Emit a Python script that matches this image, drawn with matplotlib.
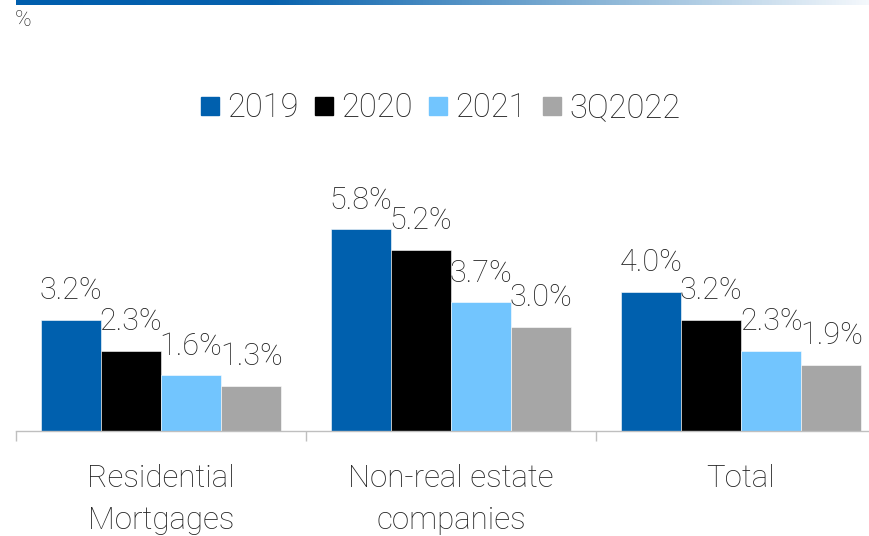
import numpy as np
import matplotlib
matplotlib.use("Agg")
import matplotlib.pyplot as plt
from matplotlib import transforms
from matplotlib.colors import LinearSegmentedColormap
from matplotlib.lines import Line2D

categories = ["Residential\nMortgages", "Non-real estate\ncompanies", "Total"]
series = ["2019", "2020", "2021", "3Q2022"]
v2019 = [3.2, 5.8, 4.0]
v2020 = [2.3, 5.2, 3.2]
v2021 = [1.6, 3.7, 2.3]
v3q2022 = [1.3, 3.0, 1.9]
colors = ["#0060AE", "#000000", "#72C5FE", "#A6A6A6"]

plt.rcParams["font.family"] = ["Roboto", "DejaVu Sans"]
text_color = "#222222"

W, H = 869, 536
fig = plt.figure(figsize=(W / 100, H / 100), dpi=100)

# gradient rule at the top
gax = fig.add_axes([16 / W, 1 - 5 / H, (W - 16) / W, 5 / H])
cmap = LinearSegmentedColormap.from_list(
    "rule", [(0, "#005EAD"), (0.3, "#0862AD"), (0.7, "#8FB8D8"), (1, "#F4F8FC")]
)
gax.imshow(np.linspace(0, 1, 256)[None, :], aspect="auto", cmap=cmap)
gax.axis("off")

fig.text(15 / W, 1 - 21 / H, "%", fontsize=16, color=text_color,
         fontweight="light", va="center", ha="left")

ax = fig.add_axes([16 / W, 105 / H, 870 / W, 278 / H])
x = np.arange(len(categories))
width = 0.2075
values = [v2019, v2020, v2021, v3q2022]
for i, (name, vals, c) in enumerate(zip(series, values, colors)):
    bars = ax.bar(x + (i - 1.5) * width, vals, width, color=c, label=name,
                  edgecolor="white", linewidth=0.4)
    for b, v in zip(bars, vals):
        ax.annotate(f"{v:.1f}%", (b.get_x() + b.get_width() / 2, v),
                    xytext=(0, 15), textcoords="offset points",
                    ha="center", va="baseline", fontsize=22,
                    fontweight="light", color=text_color)

ax.set_xlim(-0.5, 2.5)
ax.set_ylim(0, 8)
ax.set_yticks([])
for s in ["top", "right", "left"]:
    ax.spines[s].set_visible(False)
ax.spines["bottom"].set_color("#BFBFBF")
ax.spines["bottom"].set_linewidth(1)
ax.set_xticks([-0.5, 0.5, 1.5, 2.5])
ax.set_xticklabels([])
ax.tick_params(axis="x", direction="out", length=7.5, color="#BFBFBF", width=1)

# category names, one text per line so the baselines sit where the reference has them
trans = transforms.blended_transform_factory(ax.transData, fig.transFigure)
for xi, lab in zip(x, categories):
    for k, line in enumerate(lab.split("\n")):
        ax.text(xi, 1 - (487 + 42 * k) / H, line, transform=trans, ha="center",
                va="baseline", fontsize=22.5, fontweight="light", color=text_color)

handles = [Line2D([], [], marker="s", linestyle="none", markersize=13.5,
                  markerfacecolor=c, markeredgecolor=c) for c in colors]
leg = fig.legend(handles, series, loc="center", bbox_to_anchor=(440 / W, 1 - 108 / H),
                 ncol=4, frameon=False, handlelength=0.65, handletextpad=0.2,
                 columnspacing=0.45, borderaxespad=0, borderpad=0,
                 prop={"size": 23.5, "weight": "light"})
for t in leg.get_texts():
    t.set_color(text_color)

fig.savefig("out.png", dpi=100)
